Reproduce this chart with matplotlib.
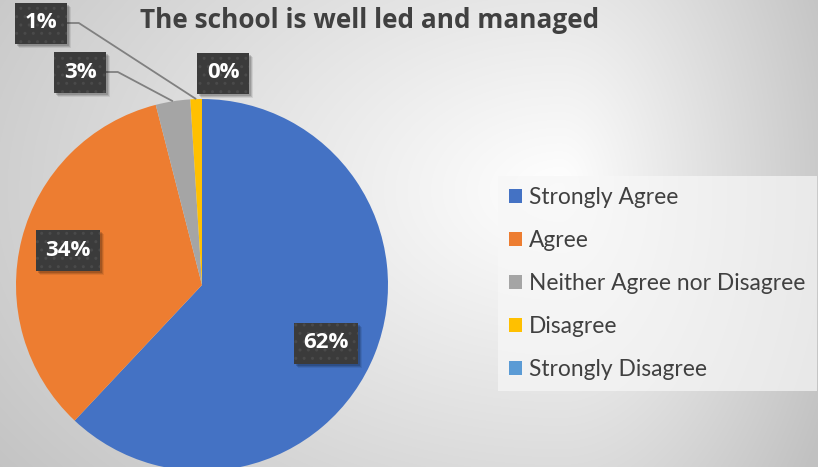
import numpy as np
import matplotlib
matplotlib.use("Agg")
import matplotlib.pyplot as plt
from matplotlib.patches import Rectangle

# ── data ──
categories = ["Strongly Agree", "Agree", "Neither Agree nor Disagree",
              "Disagree", "Strongly Disagree"]
shares = [62, 34, 3, 1, 0]
pct_labels = ["62%", "34%", "3%", "1%", "0%"]
colors = ["#4472C4", "#ED7D31", "#A5A5A5", "#FFC000", "#5B9BD5"]
title = "The school is well led and managed"

# ── layout (pixels, origin top-left) ──
W, H = 818, 467
PIE_C = (202, 285)
PIE_R = 186
label_xy = [(326, 343), (68, 250), (80, 72), (41, 23), (223, 73)]
leader = [False, False, True, True, False]
TXT = "#404040"

fig = plt.figure(figsize=(W / 100, H / 100), dpi=100)

# grey background, lighter towards the middle right
bg = fig.add_axes([0, 0, 1, 1])
bg.axis("off")
yy, xx = np.mgrid[0:H, 0:W].astype(float)
dx = xx - 560
sx = np.where(dx > 0, 300.0, 720.0)
d = np.clip(np.hypot(dx / sx, (yy - 190) / 480), 0, 1)
v = 1 - 0.24 * d
bg.imshow(np.dstack([v, v, v]), extent=(0, W, H, 0), aspect="auto",
          interpolation="bilinear")
bg.set_xlim(0, W)
bg.set_ylim(H, 0)

ax = fig.add_axes([0, 0, 1, 1])
ax.patch.set_alpha(0)
wedges, _ = ax.pie(shares, colors=colors, startangle=90, counterclock=False,
                   center=(PIE_C[0], H - PIE_C[1]), radius=PIE_R, frame=True,
                   wedgeprops=dict(linewidth=0))
ax.set_xlim(0, W)
ax.set_ylim(0, H)
ax.axis("off")

renderer = fig.canvas.get_renderer()
for w, lab, (lx, ly), lead in zip(wedges, pct_labels, label_xy, leader):
    cy = H - ly
    t = ax.text(lx, cy, lab, ha="center", va="center", color="white",
                fontsize=16, fontweight="bold", family="Open Sans", zorder=6)
    bw = t.get_window_extent(renderer).width + 19
    bh = 41
    for k, a in [(4, 0.08), (3, 0.12), (2, 0.15)]:
        ax.add_patch(Rectangle((lx - bw / 2 + k, cy - bh / 2 - k), bw, bh,
                               fc="black", ec="none", alpha=a, zorder=4))
    ax.add_patch(Rectangle((lx - bw / 2, cy - bh / 2), bw, bh, fc="#3b3b3b",
                           ec="#4a4a4a", hatch="..", lw=0, zorder=5))
    if lead:
        mid = np.deg2rad((w.theta1 + w.theta2) / 2)
        px = PIE_C[0] + PIE_R * np.cos(mid)
        py = H - PIE_C[1] + PIE_R * np.sin(mid)
        x0 = lx + bw / 2
        ax.plot([x0, x0 + 12, px], [cy, cy, py], color="#808080",
                lw=1.3, solid_capstyle="butt", zorder=3)

fig.text(370 / W, 1 - 20 / H, title, ha="center", va="center", color=TXT,
         fontsize=18.9, fontweight="bold", family="Open Sans")

leg = ax.legend(wedges, categories, loc="upper left",
                bbox_to_anchor=(498 / W, 1 - 176 / H),
                bbox_transform=fig.transFigure, frameon=True, fancybox=False,
                facecolor="#f7f7f7", edgecolor="none", framealpha=0.7,
                prop=dict(family="Lato", size=16.4), labelcolor=TXT,
                handlelength=0.57, handleheight=0.57, handletextpad=0.28,
                labelspacing=0.96, borderpad=0.5, borderaxespad=0)

fig.savefig("out.png", dpi=100)
